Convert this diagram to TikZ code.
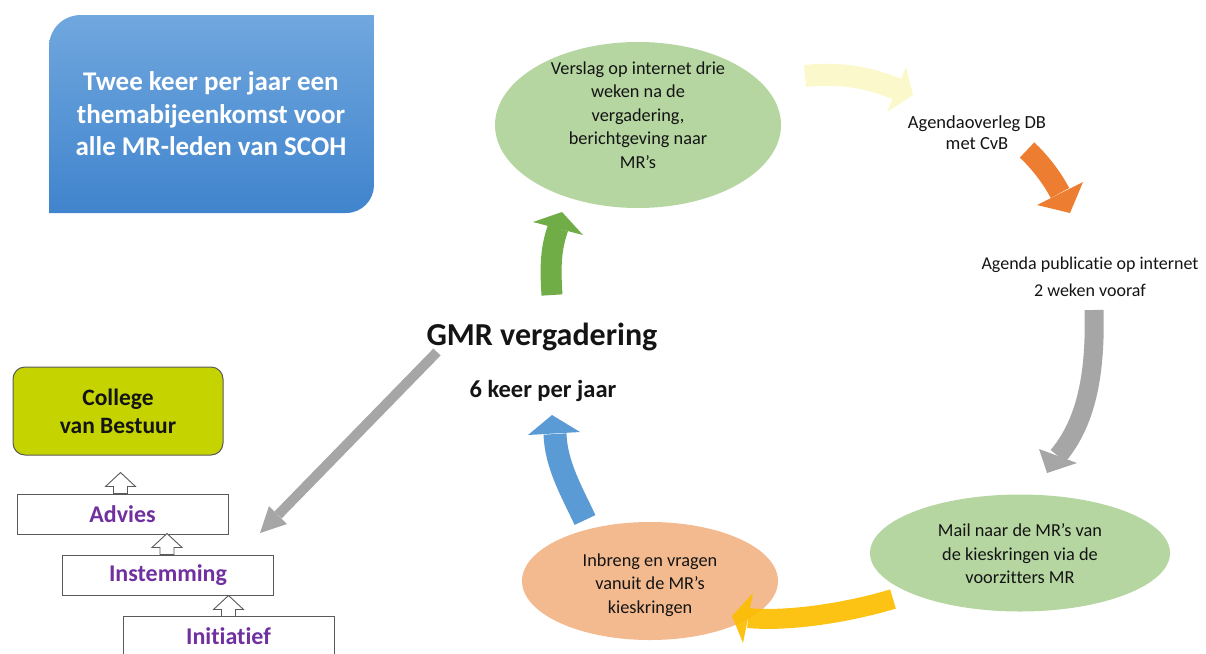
\documentclass[tikz,border=0pt]{standalone}
\usepackage{fontspec}
\setmainfont{Carlito}[Ligatures=NoCommon]
\usetikzlibrary{shapes.geometric,calc}
\definecolor{boxtop}{RGB}{112,167,222}
\definecolor{boxbot}{RGB}{64,132,205}
\definecolor{ellgreen}{RGB}{181,214,161}
\definecolor{salmon}{RGB}{244,186,143}
\definecolor{cvbgreen}{RGB}{197,212,0}
\definecolor{paleyel}{RGB}{251,249,204}
\definecolor{orangeA}{RGB}{237,125,49}
\definecolor{greyA}{RGB}{166,166,166}
\definecolor{goldA}{RGB}{252,190,0}
\definecolor{blueA}{RGB}{91,155,213}
\definecolor{greenA}{RGB}{112,173,71}
\definecolor{purpleA}{RGB}{112,48,160}
\definecolor{edgegrey}{RGB}{90,90,90}
\definecolor{ink}{RGB}{20,20,20}
\begin{document}
\begin{tikzpicture}[x=1pt,y=-1pt,
  txt/.style={align=center, inner sep=0pt, text=ink, font=\fontsize{18.3}{23.5}\selectfont},
  ell/.style={ellipse, inner sep=0pt},
  band/.style={line width=#1, line cap=butt},
  lvl/.style={draw=edgegrey, line width=1pt, fill=white, minimum width=211pt, minimum height=40pt, inner sep=0pt, text=purpleA, font=\bfseries\fontsize{24}{27}\selectfont},
  hollowup/.pic={\draw[edgegrey, fill=white, line width=0.9pt, line join=miter] (0,0) -- (15,14) -- (7,14) -- (7,21) -- (-7,21) -- (-7,14) -- (-15,14) -- cycle;}
]
\useasboundingbox (0,0) rectangle (1206,653);
\clip (0,0) rectangle (1206,653);

% theme box
\shade[top color=boxtop, bottom color=boxbot]
  (49,213) -- (49,47) .. controls (49,29) and (63,15) .. (81,15) -- (374,15) -- (374,185)
  .. controls (374,200) and (362,213) .. (346,213) -- cycle;
\node[align=center, inner sep=0pt, text=white, font=\bfseries\fontsize{27}{32.5}\selectfont] (theme) at (211,114)
  {Twee keer per jaar een\\themabijeenkomst voor\\alle MR-leden van SCOH};

% ellipses
\node[ell, fill=ellgreen, minimum width=286pt, minimum height=166pt] (verslag) at (638,125) {};
\node[txt] (verslagtxt) at (638,115) {Verslag op internet drie\\weken na de\\vergadering,\\berichtgeving naar\\MR’s};

\node[ell, fill=ellgreen, minimum width=300pt, minimum height=117pt] (mail) at (1020,553) {};
\node[txt] (mailtxt) at (1020,554) {Mail naar de MR’s van\\de kieskringen via de\\voorzitters MR};

\node[ell, fill=salmon, minimum width=256pt, minimum height=118pt] (inbreng) at (650,581) {};
\node[txt] (inbrengtxt) at (650,585) {Inbreng en vragen\\vanuit de MR’s\\kieskringen};

% free texts
\node[txt, font=\fontsize{18.5}{21}\selectfont] (overleg) at (977,133) {Agendaoverleg DB\\met CvB};
\node[txt, font=\fontsize{18}{27}\selectfont] (publicatie) at (1090,277) {Agenda publicatie op internet\\2 weken vooraf};
\node[anchor=base, inner sep=0pt, text=ink, font=\bfseries\fontsize{32}{36}\selectfont] (gmr) at (542,345) {GMR vergadering};
\node[anchor=base, inner sep=0pt, text=ink, font=\bfseries\fontsize{24.5}{28}\selectfont] (freq) at (543,397) {6 keer per jaar};

% level boxes
\node[draw=edgegrey, line width=1pt, fill=cvbgreen, rounded corners=12pt, minimum width=210pt, minimum height=88pt, inner sep=0pt, align=center, text=ink, font=\bfseries\fontsize{23.5}{28}\selectfont] (cvb) at (118,411) {College\\van Bestuur};
\node[lvl] (advies) at (122.5,514) {Advies};
\node[lvl] (instemming) at (168,575) {Instemming};
\node[lvl] (initiatief) at (228.5,636) {Initiatief};
\pic at ($(advies.north)+(-2,-21)$) {hollowup};
\pic at ($(instemming.north)+(-1,-21)$) {hollowup};
\pic at ($(initiatief.north)+(0,-20)$) {hollowup};

% block arrows
% pale yellow: verslag -> overleg
\coordinate (yS) at (805,76); \coordinate (yE) at (897,89);
\draw[band=22pt, paleyel] (yS) .. controls (840,72) and (870,78) .. (yE);
\fill[paleyel] (906,67) -- (913,95) -- (887,112) -- cycle;
% orange: overleg -> publicatie
\coordinate (oS) at (1027,150); \coordinate (oE) at (1060,193);
\draw[band=21pt, orangeA] (oS) .. controls (1040,162) and (1052,178) .. (oE);
\fill[orangeA] (1083,182) -- (1070,213) -- (1037,205) -- cycle;
% grey: publicatie -> mail
\coordinate (gS) at (1094,310); \coordinate (gE) at (1058,456);
\draw[band=19pt, greyA] (gS) .. controls (1096,380) and (1084,425) .. (gE);
\fill[greyA] (1077,463) -- (1047,473) -- (1039,449) -- cycle;
% gold: mail -> inbreng
\coordinate (kS) at (893,599); \coordinate (kE) at (748,618);
\begin{scope}[opacity=0.92]
\draw[band=20pt, goldA] (kS) .. controls (850,612) and (790,622) .. (kE);
\fill[goldA] (753,593) -- (732,616) -- (743,643) -- cycle;
\end{scope}
% blue: inbreng -> gmr
\coordinate (bS) at (585,520); \coordinate (bE) at (555,434);
\draw[band=23pt, blueA] (bS) .. controls (572,492) and (556,465) .. (bE);
\fill[blueA] (580,432) -- (552,415) -- (528,435) -- cycle;
% green: gmr -> verslag
\coordinate (vS) at (552,295); \coordinate (vE) at (558,228);
\draw[band=21pt, greenA] (vS) .. controls (550,265) and (551,248) .. (vE);
\fill[greenA] (583,235) -- (562,212) -- (533,222) -- cycle;
% grey straight: gmr -> levels
\coordinate (sS) at (437,352); \coordinate (sE) at (278,515);
\draw[band=10pt, greyA] (sS) -- (sE);
\fill[greyA] (287,524) -- (260,533) -- (269,506) -- cycle;
\end{tikzpicture}
\end{document}
